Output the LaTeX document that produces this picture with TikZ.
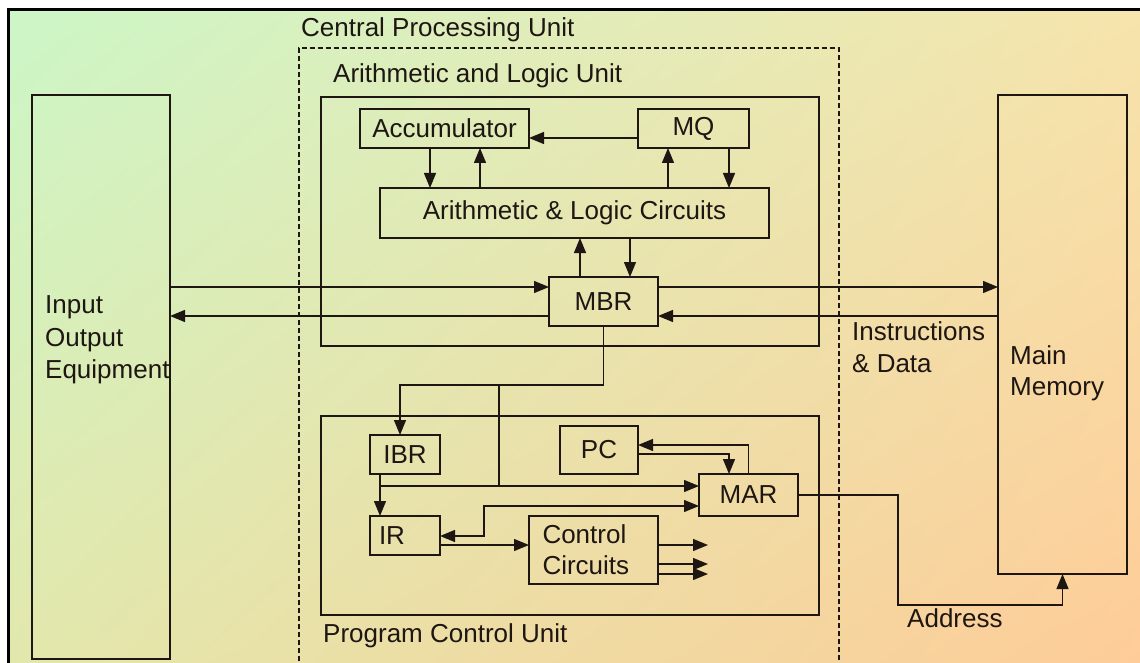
\documentclass[tikz,border=0pt]{standalone}
\usepackage{fontspec}
\setmainfont{Liberation Sans}
\usetikzlibrary{arrows.meta,calc,shadings}
\definecolor{ink}{HTML}{1E1612}
\definecolor{ulc}{RGB}{204,246,199}
\definecolor{urc}{RGB}{246,228,172}
\definecolor{llc}{RGB}{226,232,172}
\definecolor{lrc}{RGB}{254,204,152}
\begin{document}
\begin{tikzpicture}[x=1pt,y=-1pt,
  txt/.style={font=\fontsize{26pt}{31pt}\selectfont, text=ink},
  lbl/.style={txt, inner sep=0pt, anchor=base west},
  box/.style={txt, draw=ink, line width=1.4pt, inner sep=0pt, outer sep=0pt},
  cpubox/.style={draw=ink, line width=1.1pt, dash pattern=on 5pt off 3pt, inner sep=0pt, outer sep=0pt},
  wire/.style={draw=ink, line width=1.3pt},
  arr/.style={wire, -{Triangle[length=15pt,width=12pt]}},
  arrb/.style={wire, {Triangle[length=15pt,width=12pt]}-{Triangle[length=15pt,width=12pt]}}
]
\useasboundingbox (0,0) rectangle (1140,663);
\fill[white] (0,0) rectangle (1140,663);
\shade[upper left=ulc, upper right=urc, lower left=llc, lower right=lrc] (8,10) rectangle (1140,663);
\draw[black, line width=3pt] (8,663) -- (8,10) -- (1140,10);

% big boxes
\node[box, minimum width=138pt, minimum height=564pt] (io) at (101,377) {};
\node[box, minimum width=129pt, minimum height=479pt] (mem) at (1062.5,334.5) {};
\node[cpubox, minimum width=540pt, minimum height=640pt] (cpu) at (569,368) {};
\node[box, minimum width=498pt, minimum height=249pt] (alu) at (570,221.5) {};
\node[box, minimum width=498pt, minimum height=199pt] (pcu) at (570,515.5) {};

% ALU parts
\node[box, minimum width=169pt, minimum height=39pt] (acc) at (444.5,128.5) {Accumulator};
\node[box, minimum width=111pt, minimum height=39pt] (mq) at (693.5,128.5) {MQ};
\node[box, minimum width=389pt, minimum height=50pt] (alc) at (574.5,213) {Arithmetic \& Logic Circuits};
\node[box, minimum width=109pt, minimum height=49pt] (mbr) at (603.5,301.5) {MBR};

% PCU parts
\node[box, minimum width=70pt, minimum height=39pt] (ibr) at (405,454.5) {IBR};
\node[box, minimum width=78pt, minimum height=48pt] (pc) at (599,450) {PC};
\node[box, minimum width=99pt, minimum height=42pt] (mar) at (748.5,495) {MAR};
\node[box, minimum width=70pt, minimum height=39pt, text width=52pt, align=left] (ir) at (405,535.5) {IR};
\node[box, minimum width=129pt, minimum height=68pt, text width=102pt, align=left] (cc) at (593.5,550) {Control\\Circuits};

% labels
\node[lbl] (cpul) at (301,37) {Central Processing Unit};
\node[lbl] (alul) at (333,83) {Arithmetic and Logic Unit};
\node[lbl] (pcul) at (323,642) {Program Control Unit};
\node[lbl] (io1) at (45,313) {Input};
\node[lbl] (io2) at (45,346) {Output};
\node[lbl] (io3) at (45,378) {Equipment};
\node[lbl] (id1) at (852,340) {Instructions};
\node[lbl] (id2) at (852,372) {\& Data};
\node[lbl] (mm1) at (1010,364) {Main};
\node[lbl] (mm2) at (1010,395) {Memory};
\node[lbl] (addr) at (907,627) {Address};

% helper coordinates
\coordinate (mbrA) at ([yshift=14.5pt]mbr.west);
\coordinate (mbrB) at ([yshift=-14.5pt]mbr.west);
\coordinate (mbrC) at ([yshift=14.5pt]mbr.east);
\coordinate (mbrD) at ([yshift=-14.5pt]mbr.east);
\coordinate (j1) at (499,385);
\coordinate (ibrIn) at ([xshift=-5pt]ibr.north);
\coordinate (ibrOut) at ([xshift=-25pt]ibr.south);
\coordinate (marA) at ([yshift=9pt]mar.west);
\coordinate (marB) at ([yshift=-11pt]mar.west);
\coordinate (k) at (484,536);
\coordinate (irC) at ([yshift=-9.5pt]ir.east);
\coordinate (outx) at (708,0);
\coordinate (ccA) at ([yshift=5pt]cc.east);
\coordinate (ccB) at ([yshift=-14pt]cc.east);
\coordinate (ccC) at ([yshift=-24pt]cc.east);
\coordinate (pcA) at ([yshift=5pt]pc.east);
\coordinate (pcB) at ([yshift=-4pt]pc.east);
\coordinate (marC) at ([xshift=-19.5pt]mar.north);
\coordinate (a1) at (898,605);

% ALU connectors
\draw[arr] ([yshift=-9.5pt]mq.west) -- ([yshift=-9.5pt]acc.east);
\draw[arr] ([xshift=-14.5pt]acc.south) -- ([xshift=-14.5pt]acc.south |- alc.north);
\draw[arr] ([xshift=35.5pt]acc.south |- alc.north) -- ([xshift=35.5pt]acc.south);
\draw[arr] ([xshift=-25.5pt]mq.south |- alc.north) -- ([xshift=-25.5pt]mq.south);
\draw[arr] ([xshift=35.5pt]mq.south) -- ([xshift=35.5pt]mq.south |- alc.north);
\draw[arr] ([xshift=-23.5pt]mbr.north) -- ([xshift=-23.5pt]mbr.north |- alc.south);
\draw[arr] ([xshift=26.5pt]mbr.north |- alc.south) -- ([xshift=26.5pt]mbr.north);

% MBR links
\draw[arr] (io.east |- mbrA) -- (mbrA);
\draw[arr] (mbrB) -- (io.east |- mbrB);
\draw[arr] (mbrC) -- (mem.west |- mbrC);
\draw[arr] (mem.west |- mbrD) -- (mbrD);
\draw[arr] (mbr.south) -- (mbr.south |- j1) -- (ibrIn |- j1) -- (ibrIn);
\draw[wire] (j1) -- (j1 |- marA);

% PCU connectors
\draw[arr] (ibrOut) -- (ibrOut |- ir.north);
\draw[arr] (ibrOut |- marA) -- (marA);
\draw[arrb] (marB) -- (k |- marB) -- (k) -- (ir.east |- k);
\draw[arr] (irC) -- (cc.west |- irC);
\draw[arr] (ccA) -- (outx |- ccA);
\draw[arr] (ccB) -- (outx |- ccB);
\draw[arr] (ccC) -- (outx |- ccC);
\draw[arr] (mar.north) |- (pcA);
\draw[arr] (pcB) -| (marC);
\draw[arr] (mar.east) -| (a1) -| (mem.south);
\end{tikzpicture}
\end{document}
